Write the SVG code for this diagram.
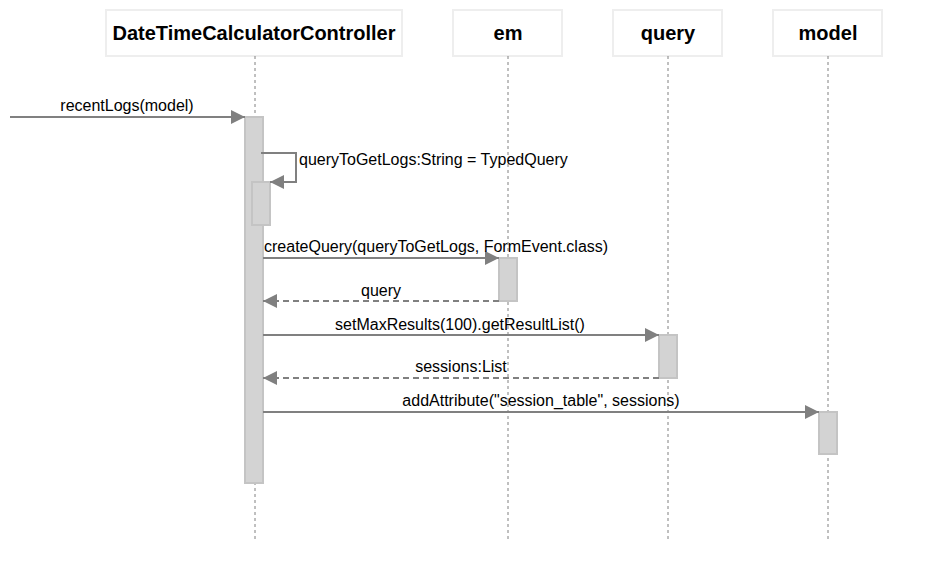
<svg xmlns="http://www.w3.org/2000/svg" width="944" height="579" viewBox="0 0 944 579">
<style>
.hd{fill:#fff;stroke:#eeeeee;stroke-width:2}
.ht{font-family:"Liberation Sans",Arial,sans-serif;font-weight:bold;font-size:20px;fill:#000;text-anchor:middle}
.ll{stroke:#808080;stroke-width:1;stroke-dasharray:3,3;fill:none}
.act{fill:#d3d3d3;stroke:#c4c4c4;stroke-width:2}
.m{stroke:#808080;stroke-width:2;fill:none}
.r{stroke:#808080;stroke-width:2;fill:none;stroke-dasharray:6,4}
.lb{font-family:"Liberation Sans",Arial,sans-serif;font-size:16px;fill:#000}
</style>
<defs>
<marker id="ah" viewBox="0 0 14 14" refX="14" refY="7" markerWidth="14" markerHeight="14" markerUnits="userSpaceOnUse" orient="auto">
<path d="M0,0 L14,7 L0,14 Z" fill="#808080"/>
</marker>
</defs>
<g id="controller">
<rect class="hd" x="106" y="10" width="296" height="46"/>
<text class="ht" x="254" y="40">DateTimeCalculatorController</text>
<line class="ll" x1="255" y1="56" x2="255" y2="540"/>
<rect class="act" x="245" y="117" width="18" height="366"/>
<rect class="act" x="252" y="182" width="18" height="43"/>
</g>
<g id="em">
<rect class="hd" x="453" y="10" width="109" height="46"/>
<text class="ht" x="508" y="40">em</text>
<line class="ll" x1="508" y1="56" x2="508" y2="540"/>
<rect class="act" x="499" y="258" width="18" height="43"/>
</g>
<g id="query">
<rect class="hd" x="613" y="10" width="109" height="46"/>
<text class="ht" x="668" y="40">query</text>
<line class="ll" x1="668" y1="56" x2="668" y2="540"/>
<rect class="act" x="659" y="335" width="18" height="43"/>
</g>
<g id="model">
<rect class="hd" x="773" y="10" width="109" height="46"/>
<text class="ht" x="828" y="40">model</text>
<line class="ll" x1="828" y1="56" x2="828" y2="540"/>
<rect class="act" x="819" y="412" width="18" height="42"/>
</g>
<g id="connectors">
<line class="m" x1="10" y1="117" x2="245" y2="117" marker-end="url(#ah)"/>
<text class="lb" x="127" y="111" text-anchor="middle">recentLogs(model)</text>
<polyline class="m" points="261,153 296,153 296,182 270,182" marker-end="url(#ah)"/>
<text class="lb" x="299" y="165">queryToGetLogs:String = TypedQuery</text>
<line class="m" x1="263" y1="258" x2="499" y2="258" marker-end="url(#ah)"/>
<text class="lb" x="264" y="252">createQuery(queryToGetLogs, FormEvent.class)</text>
<line class="r" x1="499" y1="301" x2="263" y2="301" marker-end="url(#ah)"/>
<text class="lb" x="381" y="296" text-anchor="middle">query</text>
<line class="m" x1="263" y1="335" x2="659" y2="335" marker-end="url(#ah)"/>
<text class="lb" x="460" y="330" text-anchor="middle">setMaxResults(100).getResultList()</text>
<line class="r" x1="659" y1="378" x2="263" y2="378" marker-end="url(#ah)"/>
<text class="lb" x="461" y="372" text-anchor="middle">sessions:List</text>
<line class="m" x1="263" y1="412" x2="819" y2="412" marker-end="url(#ah)"/>
<text class="lb" x="541" y="406" text-anchor="middle">addAttribute("session_table", sessions)</text>
</g>
</svg>
